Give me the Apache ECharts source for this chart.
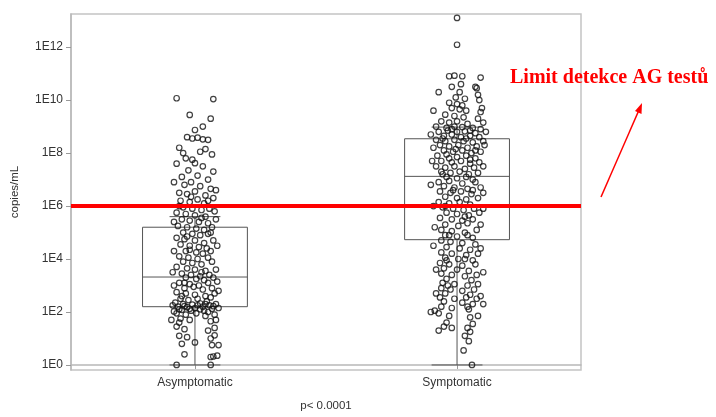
<!DOCTYPE html>
<html>
<head>
<meta charset="utf-8">
<script src="https://cdn.jsdelivr.net/npm/echarts@6/dist/echarts.min.js"></script>
<style>
  html, body { margin: 0; padding: 0; background: #fff; }
  #chart { width: 716px; height: 417px; }
</style>
</head>
<body>
<div id="chart"></div>
<script>
// groups on the x axis (placed at 1 and 2)
var categories = ['Asymptomatic', 'Symptomatic'];
// y values are log10(copies/mL)
var yTicks = [0, 2, 4, 6, 8, 10, 12];
var limitLog = 6; // AG test detection limit (1E6)

// box stats: [min, Q1, median, Q3, upper whisker]
var asymBox = [0, 2.2, 3.32, 5.2, 5.6];
var sympBox = [0, 4.73, 7.12, 8.54, 8.98];

// points: [jitter offset, log10 value]
var asymPoints = [
  [-0.07,10.07],[0.07,10.04],[-0.02,9.44],[0.06,9.3],[0.03,9.0],[0.0,8.87],[-0.03,8.6],[-0.01,8.55],
  [0.01,8.58],[0.03,8.52],[0.05,8.5],[-0.06,8.2],[-0.045,8.0],[0.02,8.05],[0.04,8.15],[0.065,7.95],
  [-0.035,7.8],[-0.01,7.75],[0.0,7.62],[0.03,7.5],[-0.025,7.35],[-0.05,7.1],[0.01,7.15],[0.05,7.0],
  [-0.04,6.8],[-0.015,6.9],[0.02,6.75],[0.06,6.65],[-0.06,6.5],[-0.03,6.45],[0.0,6.55],[0.04,6.4],
  [0.07,6.3],[-0.055,6.2],[-0.02,6.15],[0.01,6.25],[0.035,6.1],[-0.045,5.95],[-0.01,5.9],[0.025,5.85],
  [0.055,5.9],[-0.07,5.75],[-0.035,5.7],[0.0,5.65],[0.04,5.6],[-0.05,5.5],[-0.02,5.45],[0.015,5.4],
  [0.05,5.35],[0.08,5.5],[-0.065,5.25],[-0.03,5.2],[0.005,5.15],[0.035,5.1],[0.065,5.2],[-0.045,5.0],
  [-0.01,4.95],[0.02,4.9],[0.05,4.95],[-0.07,4.8],[-0.04,4.75],[0.0,4.7],[0.035,4.6],[0.07,4.7],
  [-0.055,4.55],[-0.02,4.5],[0.015,4.45],[0.045,4.4],[-0.035,4.3],[0.005,4.25],[0.03,4.2],[0.06,4.3],
  [-0.06,4.1],[-0.025,4.05],[0.01,4.0],[0.05,4.05],[-0.045,3.9],[-0.01,3.85],[0.025,3.8],[0.065,3.9],
  [-0.07,3.7],[-0.03,3.65],[0.0,3.6],[0.04,3.55],[-0.05,3.45],[-0.015,3.4],[0.02,3.35],[0.055,3.4],
  [-0.035,3.3],[0.005,3.25],[0.035,3.2],[0.07,3.3],[-0.06,3.1],[-0.02,3.05],[0.015,3.0],[0.05,3.1],
  [-0.04,2.9],[-0.005,2.95],[0.03,2.85],[0.065,2.9],[-0.07,2.75],[-0.035,2.7],[0.0,2.65],[0.04,2.6],
  [0.075,2.7],[-0.055,2.5],[-0.025,2.45],[0.01,2.5],[0.045,2.4],[-0.075,2.35],[-0.045,2.3],[-0.01,2.28],
  [0.02,2.32],[0.055,2.25],[0.08,2.3],[-0.065,2.2],[-0.03,2.18],[0.0,2.15],[0.03,2.2],[0.065,2.12],
  [-0.05,2.08],[-0.015,2.05],[0.02,2.1],[0.05,2.0],[-0.07,1.95],[-0.035,1.9],[0.005,1.95],[0.04,1.85],
  [0.075,1.9],[-0.055,1.75],[-0.02,1.7],[0.06,1.65],[-0.07,1.45],[-0.04,1.35],[0.075,1.4],[0.05,1.3],
  [-0.06,1.1],[-0.03,1.05],[0.06,1.0],[0.075,1.12],[-0.05,0.8],[0.0,0.85],[0.065,0.75],[-0.04,0.4],
  [0.06,0.3],[0.07,0.32],[-0.07,0.0],[0.06,0.0],
  [-0.085,2.25],[-0.06,2.1],[-0.04,2.22],[-0.02,2.12],[0.01,2.25],[0.035,2.05],[0.07,2.22],[0.09,2.15],
  [-0.08,2.02],[0.04,2.3],[-0.05,2.6],[0.06,2.55],[-0.08,3.0],[0.085,3.15],[-0.085,3.5],[0.08,3.6],
  [-0.08,4.3],[0.085,4.5],[-0.03,4.85],[0.06,5.0],[-0.08,5.4],[0.075,5.8],[-0.06,6.0],[0.05,6.2],
  [-0.08,6.9],[0.08,6.6],[-0.07,7.6],[0.07,7.3],[-0.04,3.1],[0.025,3.5],[-0.02,4.35],[0.025,5.55],
  [-0.015,6.35],[0.09,2.8],[-0.09,1.7],[0.08,1.7],[-0.06,1.6],[0.09,0.75],[0.085,0.35]
];

var sympPoints = [
  [0.0,13.1],[0.0,12.09],[-0.03,10.9],[-0.01,10.92],[0.02,10.9],[0.09,10.85],[0.07,10.5],[-0.07,10.3],
  [-0.02,10.5],[0.015,10.6],[0.075,10.45],[0.08,10.2],[0.01,10.3],[-0.005,10.1],[0.03,10.05],[0.085,10.0],
  [-0.03,9.9],[0.0,9.85],[0.02,9.8],[-0.02,9.7],[0.01,9.65],[0.035,9.6],[0.09,9.55],[-0.045,9.45],
  [-0.01,9.4],[0.025,9.35],[0.08,9.3],[-0.06,9.2],[-0.03,9.15],[0.0,9.2],[0.04,9.1],[0.1,9.15],
  [-0.08,9.0],[-0.04,8.95],[-0.01,9.0],[0.02,8.98],[0.06,8.95],[0.09,8.9],[-0.07,8.8],[-0.035,8.85],
  [0.0,8.8],[0.03,8.82],[0.07,8.75],[-0.05,8.65],[-0.02,8.7],[0.015,8.6],[0.05,8.65],[0.085,8.6],
  [-0.08,8.5],[-0.045,8.45],[-0.01,8.5],[0.025,8.45],[0.06,8.4],[0.1,8.45],[-0.065,8.3],[-0.03,8.25],
  [0.005,8.3],[0.04,8.2],[0.075,8.25],[-0.05,8.1],[-0.015,8.05],[0.02,8.1],[0.055,8.0],[0.09,8.05],
  [-0.075,7.9],[-0.04,7.95],[0.0,7.85],[0.035,7.9],[0.07,7.8],[-0.06,7.7],[-0.02,7.65],[0.015,7.7],
  [0.05,7.6],[0.085,7.65],[-0.08,7.5],[-0.045,7.45],[-0.01,7.5],[0.03,7.4],[0.065,7.45],[-0.06,7.3],
  [-0.025,7.25],[0.01,7.3],[0.045,7.2],[0.08,7.25],[-0.04,7.1],[0.0,7.05],[0.06,7.0],[-0.07,6.9],
  [-0.03,6.95],[0.02,6.85],[0.07,6.9],[-0.05,6.75],[-0.01,6.7],[0.04,6.65],[0.09,6.7],[-0.065,6.55],
  [-0.025,6.5],[0.015,6.55],[0.055,6.45],[-0.045,6.35],[0.0,6.3],[0.035,6.25],[0.08,6.3],[-0.07,6.15],
  [-0.03,6.1],[0.01,6.15],[0.05,6.05],[-0.055,5.95],[-0.015,5.9],[0.025,5.85],[0.065,5.9],[-0.04,5.75],
  [0.0,5.7],[0.045,5.65],[0.085,5.75],[-0.065,5.55],[-0.02,5.5],[0.02,5.45],[0.06,5.5],[-0.045,5.3],
  [0.005,5.25],[0.04,5.35],[-0.06,5.1],[-0.02,5.05],[0.03,5.0],[0.075,5.1],[-0.045,4.9],[0.0,4.85],
  [0.06,4.8],[-0.06,4.7],[-0.025,4.65],[0.02,4.6],[0.07,4.55],[-0.04,4.45],[0.01,4.4],[0.05,4.35],
  [-0.06,4.25],[-0.02,4.2],[0.035,4.15],[0.08,4.2],[-0.045,4.05],[0.005,4.0],[0.06,3.95],[-0.065,3.85],
  [-0.03,3.8],[0.02,3.75],[0.07,3.8],[-0.05,3.65],[0.0,3.6],[0.045,3.55],[-0.06,3.45],[-0.02,3.4],
  [0.03,3.35],[0.075,3.4],[-0.04,3.25],[0.055,3.2],[-0.055,3.1],[-0.01,3.05],[0.04,3.0],[0.08,3.05],
  [-0.06,2.9],[-0.025,2.85],[0.02,2.8],[0.065,2.85],[-0.045,2.7],[0.05,2.65],[-0.065,2.55],[-0.01,2.5],
  [0.035,2.55],[0.075,2.5],[-0.05,2.4],[0.02,2.35],[0.06,2.3],[-0.06,2.2],[-0.02,2.15],[0.045,2.1],
  [-0.07,1.95],[-0.03,1.85],[0.05,1.8],[0.08,1.85],[-0.04,1.6],[0.06,1.55],[-0.05,1.45],[-0.07,1.3],
  [-0.02,1.4],[0.04,1.4],[0.05,1.25],[0.03,1.1],[0.045,0.9],[0.025,0.55],[0.057,0.0],
  [-0.1,8.7],[-0.09,8.2],[0.11,8.8],[0.105,8.3],[-0.095,7.7],[0.1,7.5],[-0.1,6.8],[0.1,6.5],
  [-0.09,6.0],[0.1,5.9],[-0.085,5.2],[0.09,5.3],[-0.09,4.5],[0.09,4.4],[-0.08,3.6],[0.1,3.5],
  [-0.08,2.7],[0.09,2.6],[-0.02,8.9],[0.05,8.85],[-0.055,8.55],[0.035,8.55],[-0.005,8.15],[0.07,8.1],
  [-0.03,7.8],[0.05,7.75],[-0.055,7.2],[0.035,7.1],[-0.015,6.6],[0.06,6.6],[-0.045,6.0],[0.03,5.6],
  [-0.03,4.9],[0.04,4.9],[-0.04,3.95],[0.03,4.0],[-0.035,3.0],[0.04,2.2],[-0.1,2.0],[-0.085,2.05],
  [0.1,2.3],[0.095,9.7],[-0.09,9.6]
];

var chart = echarts.init(document.getElementById('chart'));

var boxData = [[1].concat(asymBox), [2].concat(sympBox)];
var toXY = function (pts, center) {
    return pts.map(function (p) { return [center + p[0], p[1]]; });
};

function renderBox(params, api) {
    var x = api.value(0);
    var lo = api.coord([x, api.value(1)]);
    var q1 = api.coord([x, api.value(2)]);
    var med = api.coord([x, api.value(3)]);
    var q3 = api.coord([x, api.value(4)]);
    var hi = api.coord([x, api.value(5)]);
    var half = api.size([0.2, 0])[0];
    var cap = api.size([0.097, 0])[0];
    var style = {stroke: '#555', lineWidth: 1, fill: null};
    return {
        type: 'group',
        children: [
            {type: 'rect', shape: {x: q1[0] - half, y: q3[1], width: half * 2, height: q1[1] - q3[1]}, style: style},
            {type: 'line', shape: {x1: med[0] - half, y1: med[1], x2: med[0] + half, y2: med[1]}, style: style},
            {type: 'line', shape: {x1: lo[0], y1: lo[1], x2: q1[0], y2: q1[1]}, style: style},
            {type: 'line', shape: {x1: q3[0], y1: q3[1], x2: hi[0], y2: hi[1]}, style: style},
            {type: 'line', shape: {x1: lo[0] - cap, y1: lo[1], x2: lo[0] + cap, y2: lo[1]}, style: style},
            {type: 'line', shape: {x1: hi[0] - cap, y1: hi[1], x2: hi[0] + cap, y2: hi[1]}, style: style}
        ]
    };
}

var pointStyle = {
    color: 'rgba(0,0,0,0)',
    borderColor: '#111',
    borderWidth: 1.2
};

chart.setOption({
    animation: false,
    textStyle: {fontFamily: 'Liberation Sans, Arial, sans-serif'},
    grid: {
        left: 71,
        top: 14,
        right: 135,
        bottom: 43,
        show: true,
        borderColor: '#c4c4c4',
        borderWidth: 1.5
    },
    xAxis: {
        type: 'value',
        min: 0.527,
        max: 2.473,
        name: 'p< 0.0001',
        nameLocation: 'middle',
        nameGap: 30,
        nameTextStyle: {color: '#333', fontSize: 11.5},
        axisLine: {show: true, lineStyle: {color: '#b8b8b8', width: 1.5}},
        axisTick: {show: true, customValues: [1, 2], length: 4, lineStyle: {color: '#999'}},
        axisLabel: {
            customValues: [1, 2],
            color: '#333',
            fontSize: 12,
            margin: 7,
            formatter: function (v) { return categories[Math.round(v) - 1]; }
        },
        splitLine: {show: false}
    },
    yAxis: {
        type: 'value',
        min: -0.19,
        max: 13.25,
        name: 'copies/mL',
        nameLocation: 'middle',
        nameGap: 50,
        nameTextStyle: {color: '#333', fontSize: 11.5},
        axisLine: {show: true, lineStyle: {color: '#b8b8b8', width: 1.5}},
        axisTick: {show: true, customValues: yTicks, length: 5, lineStyle: {color: '#999'}},
        axisLabel: {
            customValues: yTicks,
            color: '#333',
            fontSize: 12,
            margin: 8,
            formatter: function (v) { return '1E' + v; }
        },
        splitLine: {show: false}
    },
    graphic: [
        {
            type: 'text',
            left: 510,
            top: 68,
            style: {
                text: 'Limit detekce AG testů',
                fill: '#ff0000',
                font: 'bold 20px "Liberation Serif", "Times New Roman", serif'
            }
        },
        {
            type: 'line',
            shape: {x1: 601, y1: 197, x2: 639, y2: 110},
            style: {stroke: '#ff0000', lineWidth: 1.5}
        },
        {
            type: 'polygon',
            shape: {points: [[642, 103], [641.5, 114], [635, 111]]},
            style: {fill: '#ff0000'}
        }
    ],
    series: [
        {
            type: 'custom',
            renderItem: renderBox,
            data: boxData,
            z: 2
        },
        {
            type: 'scatter',
            symbol: 'circle',
            symbolSize: 5.5,
            itemStyle: pointStyle,
            data: toXY(asymPoints, 1),
            z: 3
        },
        {
            type: 'scatter',
            symbol: 'circle',
            symbolSize: 5.5,
            itemStyle: pointStyle,
            data: toXY(sympPoints, 2),
            z: 3,
            markLine: {
                silent: true,
                symbol: 'none',
                label: {show: false},
                lineStyle: {color: '#ff0000', width: 4, type: 'solid'},
                data: [{yAxis: limitLog}]
            }
        }
    ]
});
</script>
</body>
</html>
